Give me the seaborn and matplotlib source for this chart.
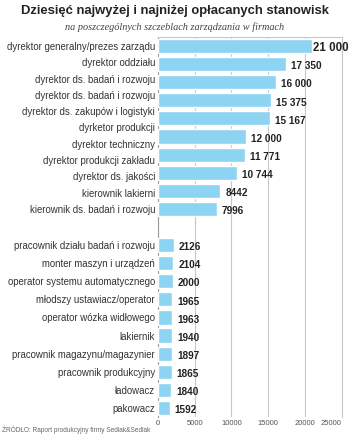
import matplotlib
matplotlib.use("Agg")
import matplotlib.pyplot as plt
import seaborn as sns
import pandas as pd
import numpy as np

# Reference infographic lists 11 labels next to 10 bars in the top group
top_labels = ["dyrektor generalny/prezes zarządu", "dyrektor oddziału",
              "dyrektor ds. badań i rozwoju", "dyrektor ds. badań i rozwoju",
              "dyrektor ds. zakupów i logistyki", "dyrketor produkcji",
              "dyrektor techniczny", "dyrektor produkcji zakładu",
              "dyrektor ds. jakości", "kierownik lakierni",
              "kierownik ds. badań i rozwoju"]
top_values = [21000, 17350, 16000, 15375, 15167, 12000, 11771, 10744, 8442, 7996]
bottom_labels = ["pracownik działu badań i rozwoju", "monter maszyn i urządzeń",
                 "operator systemu automatycznego", "młodszy ustawiacz/operator",
                 "operator wózka widłowego", "lakiernik",
                 "pracownik magazynu/magazynier", "pracownik produkcyjny",
                 "ładowacz", "pakowacz"]
bottom_values = [2126, 2104, 2000, 1965, 1963, 1940, 1897, 1865, 1840, 1592]
x_ticks = [0, 5000, 10000, 15000, 20000, 25000]

values = top_values + bottom_values
keys = [f"k{i}" for i in range(len(values))]
order = keys[:len(top_values)] + ["gap"] + keys[len(top_values):]
df = pd.DataFrame({"key": keys, "value": values})

sns.set_theme(style="white")
plt.rcParams["font.family"] = ["Liberation Sans", "DejaVu Sans"]

fig = plt.figure(figsize=(3.5, 4.38), dpi=100)
ax = fig.add_axes([0.451, 0.048, 0.526, 0.8675])
sns.barplot(data=df, x="value", y="key", order=order, orient="h",
            color="#8dd3f2", saturation=1, width=0.78, ax=ax, zorder=3)

ax.set_xlim(0, 25000)
ax.set_ylim(len(order) - 0.5, -0.5)
ax.set_xticks(x_ticks)
xt = ax.set_xticklabels([str(t) for t in x_ticks], fontsize=5.5, color="#555555")
xt[-1].set_ha("right")

# tick positions: 11 top labels spread over the 10 top bars, bottom aligned
n_top = len(top_values)
top_pos = list(np.linspace(0, n_top - 1, len(top_labels)))
bottom_pos = list(range(n_top + 1, n_top + 1 + len(bottom_labels)))
ax.set_yticks(top_pos + bottom_pos)
ax.set_yticklabels(top_labels + bottom_labels, fontsize=6.9, color="#333333")
ax.tick_params(axis="both", length=0, pad=2)
ax.set_xlabel("")
ax.set_ylabel("")
ax.grid(axis="x", color="#c8c8c8", linewidth=0.8, zorder=0)
for s in ["top", "right"]:
    ax.spines[s].set_color("#c8c8c8")
    ax.spines[s].set_linewidth(0.8)
ax.spines["bottom"].set_visible(False)
ax.spines["left"].set_color("#999999")
ax.spines["left"].set_linewidth(0.8)

def fmt(v):
    return f"{v:,}".replace(",", " ") if v >= 10000 else str(v)

for i, k in enumerate(order):
    if k == "gap":
        continue
    v = values[keys.index(k)]
    big = (i == 0)
    ax.text(v + (100 if big else 700), i + 0.12, fmt(v), va="center", ha="left",
            fontsize=8.3 if big else 7.2, fontweight="bold", color="#222222",
            family=["Liberation Sans"], clip_on=False, zorder=5)

fig.text(0.5, 0.975, "Dziesięć najwyżej i najniżej opłacanych stanowisk",
         ha="center", va="center", fontsize=9.4, fontweight="bold",
         color="#222222", family=["Liberation Sans"])
fig.text(0.5, 0.937, "na poszczególnych szczeblach zarządzania w firmach",
         ha="center", va="center", fontsize=7.4, style="italic",
         color="#444444", family=["Liberation Serif"])
fig.text(0.005, 0.018, "ŹRÓDŁO: Raport produkcyjny firmy Sedlak&Sedlak",
         ha="left", va="center", fontsize=4.7, color="#666666")

fig.savefig("out.png", dpi=100)
